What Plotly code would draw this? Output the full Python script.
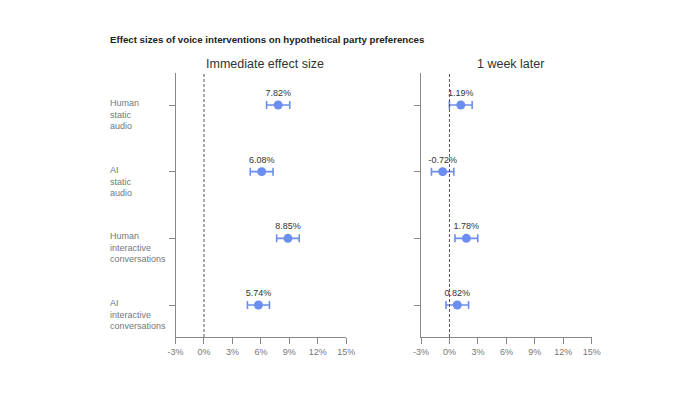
import plotly.graph_objects as go

categories = ["Human<br>static<br>audio", "AI<br>static<br>audio",
              "Human<br>interactive<br>conversations", "AI<br>interactive<br>conversations"]
immediate = [7.82, 6.08, 8.85, 5.74]
immediate_lo = [6.60, 4.88, 7.66, 4.58]
immediate_hi = [9.04, 7.28, 10.04, 6.90]
week = [1.19, -0.72, 1.78, 0.82]
week_lo = [-0.01, -1.90, 0.58, -0.37]
week_hi = [2.39, 0.46, 2.98, 2.01]
x_ticks = [-3, 0, 3, 6, 9, 12, 15]
x_tick_labels = ["-3%", "0%", "3%", "6%", "9%", "12%", "15%"]
panel_titles = ["Immediate effect size", "1 week later"]
title = "Effect sizes of voice interventions on hypothetical party preferences"

W, H = 700, 394
FONT = "Liberation Sans, Arial, sans-serif"
BLUE = "#6b8ef0"
GRAY = "#888888"
LBL = "#777777"

fig = go.Figure()
ypos = list(range(len(categories)))

for i, (vals, lo, hi) in enumerate([(immediate, immediate_lo, immediate_hi),
                                     (week, week_lo, week_hi)]):
    xa = "x" if i == 0 else "x2"
    ya = "y" if i == 0 else "y2"
    fig.add_trace(go.Scatter(
        x=vals, y=ypos, xaxis=xa, yaxis=ya, mode="markers+text",
        marker=dict(color=BLUE, size=9),
        error_x=dict(type="data", symmetric=False,
                     array=[h - v for h, v in zip(hi, vals)],
                     arrayminus=[v - l for v, l in zip(vals, lo)],
                     color=BLUE, thickness=1.6, width=4),
        text=[f"{v:.2f}%" for v in vals], textposition="top center",
        textfont=dict(family=FONT, size=9, color="#333333"),
        showlegend=False, cliponaxis=False, hoverinfo="skip"))

xdoms = [[171.7 / W, 346.7 / W], [423.3 / W, 598.3 / W]]
ydom = [1 - 337 / H, 1 - 73 / H]

axis_common = dict(showline=True, linecolor=GRAY, linewidth=1, ticks="outside",
                   tickcolor=GRAY, ticklen=6, showgrid=False, zeroline=False,
                   fixedrange=True)

for i, key in enumerate(["", "2"]):
    fig.layout["xaxis" + key] = dict(
        domain=xdoms[i], range=[-3, 15], tickvals=x_ticks, ticktext=x_tick_labels,
        tickfont=dict(family=FONT, size=9, color=LBL), anchor="y" + key,
        **axis_common)
    fig.layout["yaxis" + key] = dict(
        domain=ydom, range=[3.48, -0.48], tickvals=ypos, showticklabels=False,
        anchor="x" + key, **axis_common)
    fig.add_shape(type="line", xref="x" + key, yref="y" + key + " domain" if key else "y domain",
                  x0=0, x1=0, y0=0, y1=1,
                  line=dict(color="#555555", width=1, dash="3px,2px"))

annotations = []
for c, y in zip(categories, ypos):
    annotations.append(dict(text=c, xref="paper", yref="y", x=103 / W, y=y,
                            xanchor="left", yanchor="top", yshift=9, align="left",
                            showarrow=False,
                            font=dict(family=FONT, size=9, color=LBL)))
annotations.append(dict(text=f"<b>{title}</b>", xref="paper", yref="paper",
                        x=103 / W, y=1 - 40 / H, xanchor="left", yanchor="middle",
                        showarrow=False, font=dict(family=FONT, size=9.7, color="#222222")))
for t, xc in zip(panel_titles, [263, 515.5]):
    annotations.append(dict(text=t, xref="paper", yref="paper", x=xc / W, y=1 - 64 / H,
                            xanchor="center", yanchor="middle", showarrow=False,
                            font=dict(family=FONT, size=12.5, color="#333333")))

fig.update_layout(width=W, height=H, margin=dict(l=0, r=0, t=0, b=0),
                  paper_bgcolor="white", plot_bgcolor="white",
                  annotations=annotations, font=dict(family=FONT))

fig.write_html("out.html", config={"displayModeBar": False},
               post_script="document.body.style.margin='0';document.body.style.overflow='hidden';")
